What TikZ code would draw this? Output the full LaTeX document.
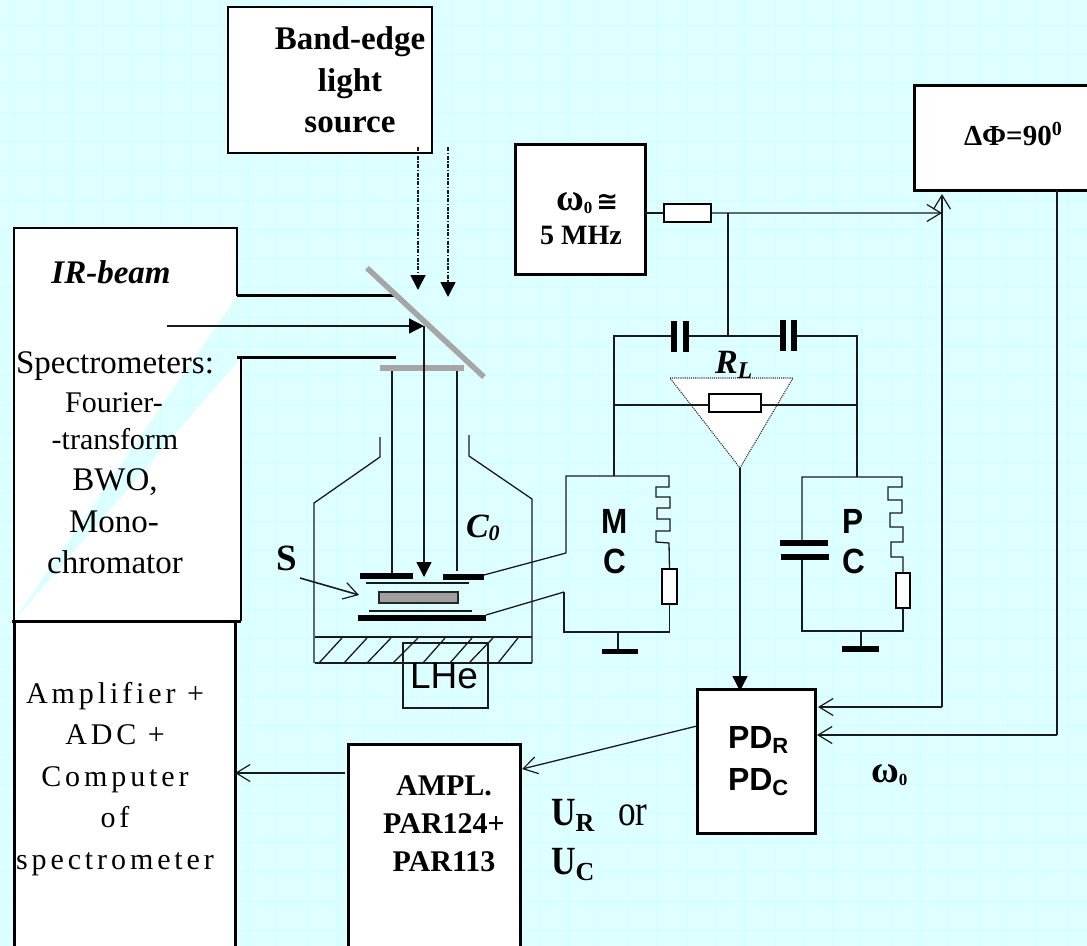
\documentclass[tikz,border=0pt]{standalone}
\usepackage{fontspec}
\setmainfont{Liberation Serif}
\setsansfont{Liberation Sans}
\newfontfamily\symfont{DejaVu Sans}
\usetikzlibrary{arrows.meta}
\newcommand{\fsz}[1]{\fontsize{#1bp}{#1bp}\selectfont}
\newcommand{\narrow}[2]{\scalebox{#1}[1]{#2}}
\definecolor{bgcol}{HTML}{DEFFFF}
\definecolor{gridcol}{HTML}{CFFFFF}
\definecolor{mirrorcol}{HTML}{A6A6A6}
\definecolor{wirecol}{HTML}{1A1A1A}
\tikzset{
  x=1bp,y=-1bp,
  bx/.style={draw=black,fill=white,line width=3bp,inner sep=0pt,outer sep=0pt,anchor=north west},
  wire/.style={draw=wirecol,line width=1.3bp},
  heavy/.style={draw=black,line width=3bp},
  outline/.style={draw=black,line width=2.4bp},
  plate/.style={fill=black,draw=none},
  lab/.style={inner sep=0pt,outer sep=0pt,anchor=base,align=center},
  lbl/.style={lab,anchor=base west},
  barb/.style={-{Straight Barb[length=14bp,width=17bp,line width=1.2bp]}},
  solidhead/.style={-{Triangle[length=15bp,width=15bp,color=black,fill=black]}},
  raybeam/.style={draw=wirecol,line width=1.7bp,dash pattern=on 4bp off 1.5bp on 1.5bp off 1.5bp},
  mirror/.style={draw=mirrorcol,line width=5.5bp}
}
\begin{document}
\begin{tikzpicture}
\useasboundingbox (0,0) rectangle (1087,946);
\clip (0,0) rectangle (1087,946);
% background with faint grid
\fill[bgcol] (0,0) rectangle (1087,946);
\foreach \i in {0,...,36} {
  \pgfmathsetmacro{\gx}{15+29.2*\i}
  \draw[gridcol,line width=0.8bp] (\gx,0) -- (\gx,946);
}
\foreach \i in {0,...,32} {
  \pgfmathsetmacro{\gy}{25+29.2*\i}
  \draw[gridcol,line width=0.8bp] (0,\gy) -- (1087,\gy);
}

% spectrometer box with transparent wedge
\fill[white] (14,228) -- (237,228) -- (237,296) -- (14,620) -- cycle;
\fill[white] (241,358) -- (241,621) -- (14,621) -- cycle;
\draw[outline] (14,621) -- (14,228) -- (237,228) -- (237,296);
\draw[outline] (241,358) -- (241,621);
\draw[heavy] (12,621) -- (241,621);
\draw[heavy] (237,295) -- (397,295);
\draw[heavy] (237,357) -- (396,357);

% boxes
\node[bx,line width=2bp,minimum width=204bp,minimum height=146bp] (band) at (228,7) {};
\node[bx,minimum width=221bp,minimum height=340bp] (comp) at (14,621) {};
\node[bx,minimum width=130bp,minimum height=130bp] (osc) at (515,144) {};
\node[bx,minimum width=190bp,minimum height=105bp] (phase) at (914,85) {};
\node[bx,minimum width=118bp,minimum height=144bp] (pd) at (697,689) {};
\node[bx,minimum width=172bp,minimum height=220bp] (ampl) at (348,744) {};

% mirror and window
\coordinate (mirrorA) at (367,268);
\coordinate (mirrorB) at (484,377);
\draw[mirror] (mirrorA) -- (mirrorB);
\node[fill=mirrorcol,inner sep=0pt,minimum width=84bp,minimum height=6bp] (window) at (422,368) {};

% light-source rays
\coordinate (rayA) at (418,290);
\coordinate (rayB) at (448,297);
\draw[raybeam,solidhead] (rayA |- 0,147) -- (rayA);
\draw[raybeam,solidhead] (rayB |- 0,147) -- (rayB);

% IR beam
\coordinate (irstart) at (167,326);
\coordinate (irhit) at (424,326);
\coordinate (irend) at (424,577);
\draw[wire,solidhead] (irstart) -- (irhit);
\draw[wire,solidhead] (irhit) -- (irend);
\draw[wire] (392,371) -- (392,574);
\draw[wire] (457,371) -- (457,571);

% cryostat
\draw[wire] (380,437) -- (380,457) -- (314,503) -- (314,663);
\draw[wire] (469,435) -- (469,456) -- (532,499) -- (532,663);
\draw[wire] (315,637) -- (532,637);
\draw[wire] (315,663) -- (532,663);
\foreach \xa/\xb in {319/342, 344/367, 367/391, 393/418, 423/445, 450/472, 469/493, 498/518}
  \draw[wire] (\xa,663) -- (\xb,638);
\node[draw=wirecol,line width=1.5bp,minimum width=85bp,minimum height=65bp,inner sep=0pt,anchor=north west] (lhebox) at (402,642) {};
\node[lab,font=\sffamily] (lhe) at (444,688) {\fsz{37}LHe};

% plates and sample
\fill[plate] (360,573) rectangle (413,579);
\fill[plate] (443,574) rectangle (484,580);
\draw[wire] (366,583) -- (469,583);
\draw[fill=gray!75,draw=black!85,line width=2bp] (379,592) rectangle (458,603);
\draw[wire] (369,611) -- (472,611);
\fill[plate] (358,615) rectangle (486,621);
\draw[wire,line width=1.6bp,barb] (300,578) -- (359,595);

% wires to the measuring circuit
\draw[wire] (484,575) -- (566,553);
\draw[wire] (486,615) -- (564,592);

% feed line
\node[bx,line width=2.4bp,minimum width=47bp,minimum height=18bp] (rfeed) at (664,204) {};
\coordinate (junc) at (728,213);
\coordinate (phin) at (942,213);
\coordinate (phtip) at (942,194);
\draw[wire] (osc.east |- rfeed.west) -- (rfeed.west);
\draw[wire,barb] (rfeed.east) -- (phin);
\draw[wire] (junc) -- (728,336);

% bridge
\draw[wire] (614,476) -- (614,336) -- (671,336);
\draw[wire] (689,336) -- (780,336);
\draw[wire] (797,336) -- (857,336) -- (857,477);
\fill[plate] (671,321) rectangle (677,352);
\fill[plate] (683,321) rectangle (689,352);
\fill[plate] (780,320) rectangle (786,351);
\fill[plate] (791,320) rectangle (797,351);

% triangle and load resistor
\coordinate (triA) at (670,378);
\coordinate (triB) at (793,378);
\coordinate (triC) at (740,468);
\draw[fill=white,draw=black!80,line width=1.1bp,densely dotted] (triA) -- (triB) -- (triC) -- cycle;
\node[bx,line width=2.4bp,minimum width=52bp,minimum height=18bp] (rload) at (709,394) {};
\draw[wire] (614,405) -- (rload.west |- 0,405);
\draw[wire] (rload.east |- 0,405) -- (857,405);
\coordinate (pdtop) at (740,691);
\draw[wire,solidhead] (triC) -- (pdtop);

% MC loop
\node[bx,line width=2.4bp,minimum width=15bp,minimum height=35bp] (rmc) at (662,569) {};
\draw[wire] (566,553) -- (566,476) -- (669,476) -- (669,487) -- (656,487) -- (656,497) -- (670,497) -- (670,508) -- (657,508) -- (657,519) -- (670,519) -- (670,531) -- (656,531) -- (656,542) -- (669,543) -- (rmc.north);
\draw[wire] (564,592) -- (564,632) -- (rmc.south |- 0,632) -- (rmc.south);
\draw[wire] (618,632) -- (618,649);
\fill[plate] (602,649) rectangle (638,654);

% PC loop
\node[bx,line width=2.4bp,minimum width=14bp,minimum height=35bp] (rpc) at (896,573) {};
\draw[wire] (802,540) -- (802,477) -- (902,477) -- (902,487) -- (888,487) -- (888,500) -- (902,500) -- (902,513) -- (890,513) -- (890,527) -- (903,527) -- (903,542) -- (891,542) -- (891,557) -- (903,557) -- (rpc.north);
\draw[wire] (802,560) -- (802,631) -- (rpc.south |- 0,631) -- (rpc.south);
\fill[plate] (780,540) rectangle (828,546);
\fill[plate] (781,554) rectangle (829,560);
\draw[wire] (861,631) -- (861,646);
\fill[plate] (842,646) rectangle (879,652);

% phase detector connections
\coordinate (pdinA) at (818,707);
\coordinate (pdinB) at (817,735);
\draw[wire,barb] (942,707) -- (pdinA);
\draw[wire,barb] (942,707) -- (phtip);
\draw[wire,barb] (1057,735) -- (pdinB);
\draw[wire] (phase.south -| 1057,0) -- (1057,735);
\coordinate (amplin) at (522,769);
\draw[wire,barb] (pd.west |- 0,726) -- (amplin);
\draw[wire,barb] (345,773) -- (comp.east |- 0,773);

% texts
\node[lab] (t1) at (350,49) {\fsz{33}\bfseries Band-edge};
\node[lab] (t2) at (350,91) {\fsz{33}\bfseries light};
\node[lab] (t3) at (350,132) {\fsz{33}\bfseries source};
\node[lab] (t4) at (111,283) {\fsz{33}\bfseries\itshape IR-beam};
\node[lab] (t5) at (115,373) {\fsz{33}Spectrometers:};
\node[lab] (t6) at (114,412) {\fsz{30}Fourier-};
\node[lab] (t7) at (115,449) {\fsz{30}-transform};
\node[lab] (t8) at (115,490) {\fsz{33}BWO,};
\node[lab] (t9) at (114,532) {\fsz{33}Mono-};
\node[lab] (t10) at (115,573) {\fsz{33}chromator};
\node[lab] (t11) at (115,703) {\addfontfeature{LetterSpace=13}\fsz{30}Amplifier +};
\node[lab] (t12) at (115,744) {\addfontfeature{LetterSpace=13}\fsz{30}ADC +};
\node[lab] (t13) at (115,786) {\addfontfeature{LetterSpace=13}\fsz{30}Computer};
\node[lab] (t14) at (115,827) {\addfontfeature{LetterSpace=13}\fsz{30}of};
\node[lab] (t15) at (115,869) {\addfontfeature{LetterSpace=13}\fsz{30}spectrometer};
\node[lab] (t16) at (444,795) {\fsz{30}\bfseries AMPL.};
\node[lab] (t17) at (444,833) {\fsz{30}\bfseries PAR124+};
\node[lab] (t18) at (444,871) {\fsz{30}\bfseries PAR113};
\node[lbl] (t19) at (556,210) {\fsz{38}\bfseries ω\raisebox{-3bp}{\fsz{17}0}\hspace{4bp}\symfont\fsz{26}≅};
\node[lab] (t20) at (581,244) {\fsz{28}\bfseries 5 MHz};
\node[lbl] (t21) at (964,145) {\fsz{29}\bfseries ΔΦ=90\raisebox{10bp}{\fsz{20}0}};
\node[lbl] (t22) at (276,570) {\fsz{37}\bfseries S};
\node[lbl] (t23) at (466,537) {\fsz{34}\bfseries\itshape C\raisebox{-3bp}{\fsz{22}0}};
\node[lbl] (t24) at (715,373) {\fsz{34}\bfseries\itshape R\raisebox{-5bp}{\fsz{24}L}};
\node[lab,font=\sffamily\bfseries] (t25) at (615,533) {\narrow{0.9}{\fsz{35}M}};
\node[lab,font=\sffamily\bfseries] (t26) at (615,573) {\narrow{0.9}{\fsz{35}C}};
\node[lab,font=\sffamily\bfseries] (t27) at (853,533) {\narrow{0.9}{\fsz{35}P}};
\node[lab,font=\sffamily\bfseries] (t28) at (854,573) {\narrow{0.9}{\fsz{35}C}};
\node[lbl,font=\sffamily\bfseries] (t29) at (728,748) {\fsz{32}PD\raisebox{-5bp}{\fsz{22}R}};
\node[lbl,font=\sffamily\bfseries] (t30) at (728,790) {\fsz{32}PD\raisebox{-5bp}{\fsz{22}C}};
\node[lbl] (t31) at (871,782) {\fsz{38}\bfseries ω\raisebox{-3bp}{\fsz{17}0}};
\node[lbl] (t32) at (551,825) {\narrow{0.85}{\fsz{40}\bfseries U}\raisebox{-6bp}{\fsz{26}\bfseries R}};
\node[lbl] (t33) at (618,825) {\narrow{0.8}{\fsz{44}or}};
\node[lbl] (t34) at (551,874) {\narrow{0.85}{\fsz{40}\bfseries U}\raisebox{-6bp}{\fsz{26}\bfseries C}};
\end{tikzpicture}
\end{document}
